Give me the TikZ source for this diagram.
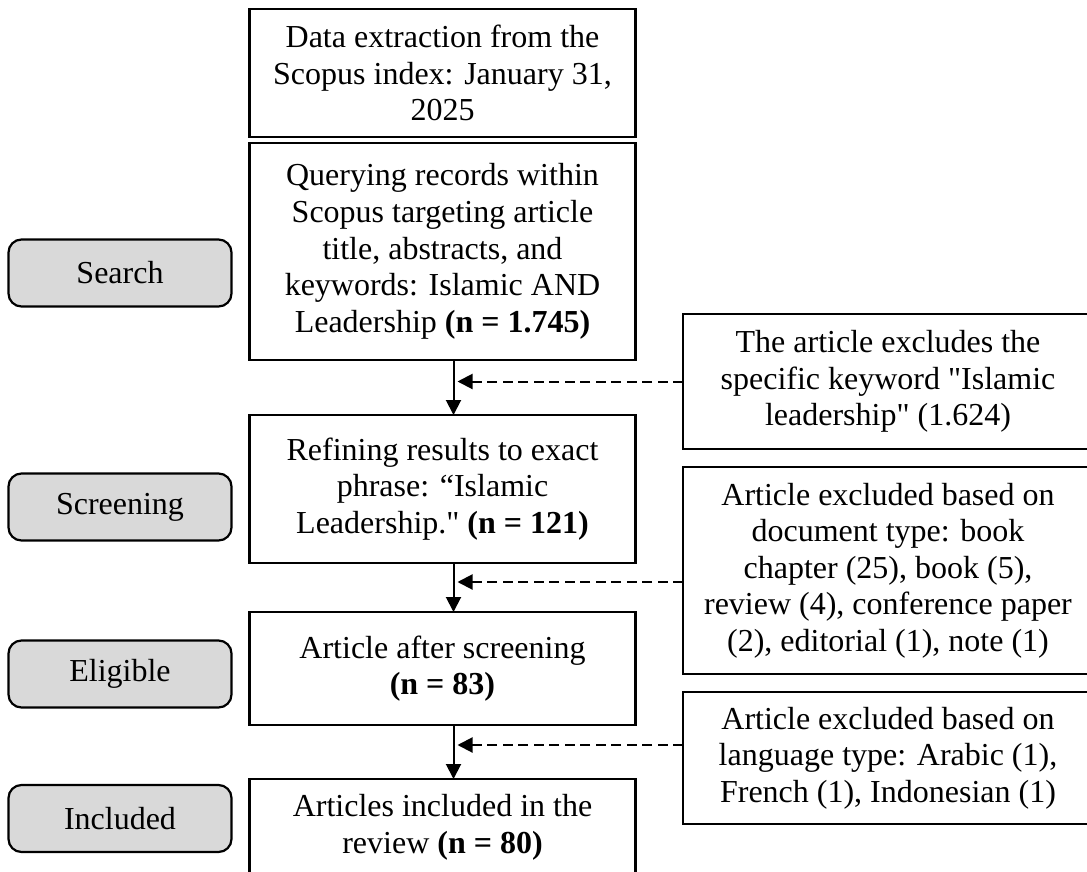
\documentclass[tikz,border=0pt]{standalone}
\usepackage{fontspec}
\setmainfont{Liberation Serif}[Ligatures=TeXOff]
\usepackage{tikz}
\usetikzlibrary{positioning,arrows.meta}

\begin{document}
\begin{tikzpicture}[
        x=0.5pt, y=-0.5pt,
        every node/.style={font=\fontsize{16}{18.3}\selectfont, align=center, inner sep=0pt, outer sep=0pt},
        lowtext/.style={execute at begin node={\rule{0pt}{16.5pt}}},
        mainbox/.style={draw, line width=1.3pt, minimum width=193pt, lowtext},
        sidebox/.style={draw, line width=1.3pt, minimum width=205pt, lowtext},
        phase/.style={draw, line width=1.1pt, fill=gray!30, rounded corners=6.5pt, minimum width=111.5pt, minimum height=33.5pt},
        flow/.style={line width=1pt, -{Triangle[width=7.5pt, length=7.5pt]}},
        cut/.style={flow, dash pattern=on 5pt off 2.75pt, shorten >=2pt}
    ]

    \clip (0,0) rectangle (1087,872) ;

    % main column
    \node[mainbox, minimum height=64pt] (extract) at (442.5,73)
        {Data extraction from the\\ Scopus index: January 31,\\ 2025} ;
    \node[mainbox, minimum height=108.5pt, below=3pt of extract] (query)
        {Querying records within\\ Scopus targeting article\\ title, abstracts, and\\ keywords: Islamic AND\\ Leadership \textbf{(n = 1.745)}} ;
    \node[mainbox, minimum height=74pt, below=27.5pt of query] (refine)
        {Refining results to exact\\ phrase: “Islamic\\ Leadership." \textbf{(n = 121)}} ;
    \node[mainbox, minimum height=56.5pt, below=24.5pt of refine] (screened)
        {Article after screening\\ \textbf{(n = 83)}} ;
    \node[mainbox, minimum height=48pt, below=27pt of screened] (included)
        {Articles included in the\\ review \textbf{(n = 80)}} ;

    % stages on the left
    \node[phase, left=9pt of query, yshift=-10.75pt] (search) {Search} ;
    \node[phase, left=9pt of refine, yshift=-9pt] (screening) {Screening} ;
    \node[phase, left=9pt of screened, yshift=-2.75pt] (eligible) {Eligible} ;
    \node[phase, left=9pt of included, yshift=4.25pt] (inclabel) {Included} ;

    % exclusions on the right
    \node[sidebox, minimum height=67.5pt] (excl1) at (888,381.5)
        {The article excludes the\\ specific keyword "Islamic\\ leadership" (1.624)} ;
    \node[sidebox, minimum height=103.5pt] (excl2) at (888,570.5)
        {Article excluded based on\\ document type: book\\ chapter (25), book (5),\\ review (4), conference paper\\ (2), editorial (1), note (1)} ;
    \node[sidebox, minimum height=66pt] (excl3) at (888,758)
        {Article excluded based on\\ language type: Arabic (1),\\ French (1), Indonesian (1)} ;

    \foreach \a/\b/\n in {query/refine/1, refine/screened/2, screened/included/3}
        {
        \coordinate (v\n) at ([xshift=5.5pt]\a.south) ;
        \draw[flow] (v\n) -- (v\n |- \b.north) ;
        }

    \draw[cut] (excl1.west) -- (excl1.west -| v1) ;
    \draw[cut] ([yshift=-5.75pt]excl2.west) -- ([yshift=-5.75pt]excl2.west -| v2) ;
    \draw[cut] ([yshift=6.5pt]excl3.west) -- ([yshift=6.5pt]excl3.west -| v3) ;

\end{tikzpicture}
\end{document}
